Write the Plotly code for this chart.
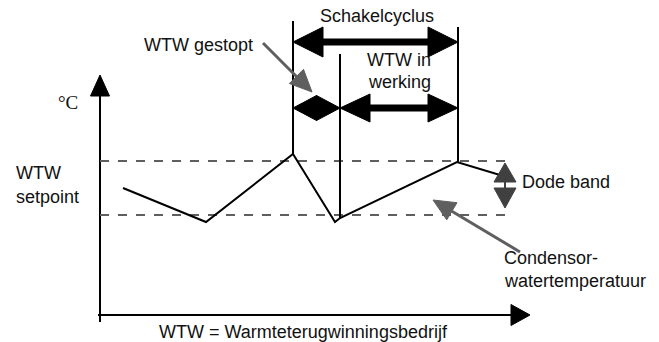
import plotly.graph_objects as go

# diagram coordinates (pixel space of the 659x342 picture)
temp_x = [123, 206, 293, 335, 340, 457, 500]
temp_y = [188, 222, 154, 222, 218, 162, 175]

band_x = [100, 512]
band_upper = 161
band_lower = 215

switch_x = [293, 340, 458]
switch_top = [21, 54, 27]
switch_bottom = [154, 218, 162]

# double arrows: start x, end x, y, head length, half width
span_x0 = [293, 293, 340]
span_x1 = [458, 340, 458]
span_y = [42, 108, 108]
span_head = [30, 23.5, 30]
span_half = [15, 12.5, 14]

labels = [
    ("Schakelcyclus", 377, 16, "center"),
    ("WTW gestopt", 198, 45, "center"),
    ("WTW in", 399, 60, "center"),
    ("werking", 399, 82, "center"),
    ("WTW", 14, 173, "left"),
    ("setpoint", 14, 197, "left"),
    ("Dode band", 520, 182, "left"),
    ("Condensor-", 502, 258, "left"),
    ("watertemperatuur", 502, 281, "left"),
    ("WTW = Warmteterugwinningsbedrijf", 303, 332, "center"),
]

BLACK = "#000000"
GRAY = "#5f5f5f"
DARK = "#404040"

fig = go.Figure()


def line(xs, ys, color=BLACK, width=2, dash="solid"):
    fig.add_trace(go.Scatter(x=xs, y=ys, mode="lines", hoverinfo="skip",
                             line=dict(color=color, width=width, dash=dash)))


def poly(xs, ys, color=BLACK):
    fig.add_trace(go.Scatter(x=xs + [xs[0]], y=ys + [ys[0]], mode="lines", fill="toself",
                             fillcolor=color, hoverinfo="skip", line=dict(color=color, width=1)))


def head(tip, tail, length, half, color=BLACK):
    dx, dy = tip[0] - tail[0], tip[1] - tail[1]
    n = (dx ** 2 + dy ** 2) ** 0.5
    ux, uy = dx / n, dy / n
    bx, by = tip[0] - ux * length, tip[1] - uy * length
    poly([tip[0], bx - uy * half, bx + uy * half],
         [tip[1], by + ux * half, by - ux * half], color)
    return bx, by


# axes
line([100, 100], [322, 94])
head((100, 75), (100, 320), 21, 9.5)
line([98, 512], [315, 315])
head((530, 315), (100, 315), 19, 10.5)

# setpoint band
line(band_x, [band_upper, band_upper], GRAY, 2, "dash")
line(band_x, [band_lower, band_lower], GRAY, 2, "dash")

# condenser water temperature
line(temp_x, temp_y)

# switching moments
for x, t, b in zip(switch_x, switch_top, switch_bottom):
    line([x, x], [t, b])

# cycle arrows
for x0, x1, y, hl, hw in zip(span_x0, span_x1, span_y, span_head, span_half):
    line([x0 + hl, x1 - hl], [y, y], BLACK, 7)
    head((x0, y), (x1, y), hl, hw)
    head((x1, y), (x0, y), hl, hw)

# dead band arrow
line([505, 505], [180, 190], DARK, 2)
head((505, 163), (505, 200), 19, 11, DARK)
head((505, 208), (505, 170), 20, 11, DARK)

# pointer arrows
bx, by = head((312, 92), (263, 43), 22, 10, GRAY)
line([263, bx], [43, by], GRAY, 3)
bx, by = head((433, 200), (520, 252), 22, 10, GRAY)
line([520, bx], [252, by], GRAY, 3)

for text, x, y, anchor in labels:
    fig.add_annotation(x=x, y=y, text=text, showarrow=False, xanchor=anchor, yanchor="middle",
                       font=dict(family="Liberation Sans, Arial", size=18, color="#111111"))

fig.add_annotation(x=68, y=102, text="°C", showarrow=False, xanchor="center", yanchor="middle",
                   font=dict(family="Liberation Serif, Times New Roman", size=19, color="#111111"))

fig.update_layout(
    width=659, height=342,
    margin=dict(l=0, r=0, t=0, b=0),
    paper_bgcolor="white", plot_bgcolor="white",
    showlegend=False,
    xaxis=dict(range=[0, 659], visible=False, fixedrange=True),
    yaxis=dict(range=[342, 0], visible=False, fixedrange=True),
)

# drop the default body margin so the figure fills the window
fig.write_html("out.html", config={"displayModeBar": False},
               post_script="document.body.style.margin = '0';")
